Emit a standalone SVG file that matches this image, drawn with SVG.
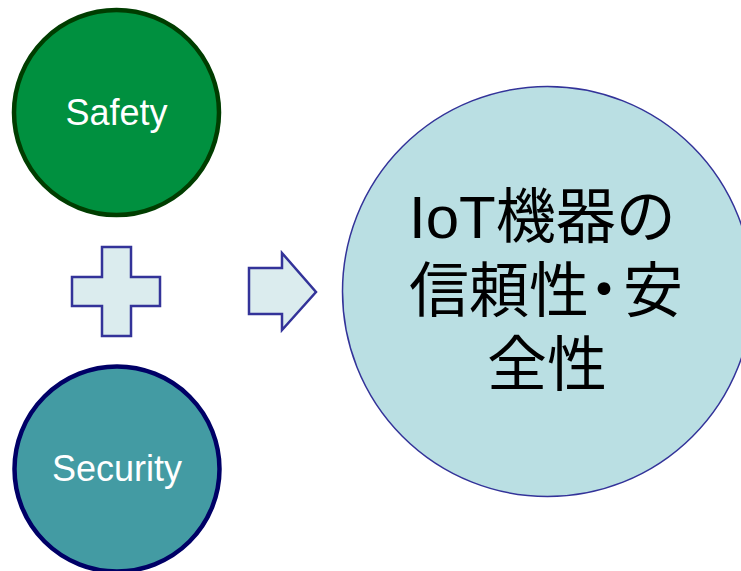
<svg xmlns="http://www.w3.org/2000/svg" width="741" height="571" viewBox="0 0 741 571">
  <style>
    .lbl { font-family: "Liberation Sans", Arial, sans-serif; font-size: 36px; fill: #ffffff; text-anchor: middle; }
    .big { font-family: "Liberation Sans", "Noto Sans CJK JP", sans-serif; font-size: 60px; fill: #000000; }
    .half { font-feature-settings: "halt" 1; }
    .shape { fill: #dbecee; stroke: #333399; stroke-width: 2.5; stroke-linejoin: miter; }
  </style>
  <rect width="741" height="571" fill="#ffffff"/>

  <g id="safety">
    <circle cx="116.5" cy="112.5" r="102.5" fill="#00903f" stroke="#003d00" stroke-width="4.5"/>
    <text class="lbl" x="116.5" y="125">Safety</text>
  </g>

  <g id="security">
    <circle cx="117" cy="469" r="102.5" fill="#439ba3" stroke="#000066" stroke-width="4.5"/>
    <text class="lbl" x="117" y="481">Security</text>
  </g>

  <g id="plus">
    <path class="shape" d="M102,247 H131 V277 H160 V306 H131 V336 H102 V306 H72 V277 H102 Z"/>
  </g>

  <g id="connectors">
    <path class="shape" d="M249,268 H282 V253 L316,292 L282,330 V314 H249 Z"/>
  </g>

  <g id="result">
    <circle cx="547.5" cy="291.5" r="205" fill="#badfe3" stroke="#333399" stroke-width="1.5"/>
    <text class="big" x="409" y="238">IoT機器の</text>
    <text class="big" x="409" y="312">信頼性<tspan class="half">・</tspan><tspan dx="4">安</tspan></text>
    <text class="big" x="487" y="386">全性</text>
  </g>
</svg>
